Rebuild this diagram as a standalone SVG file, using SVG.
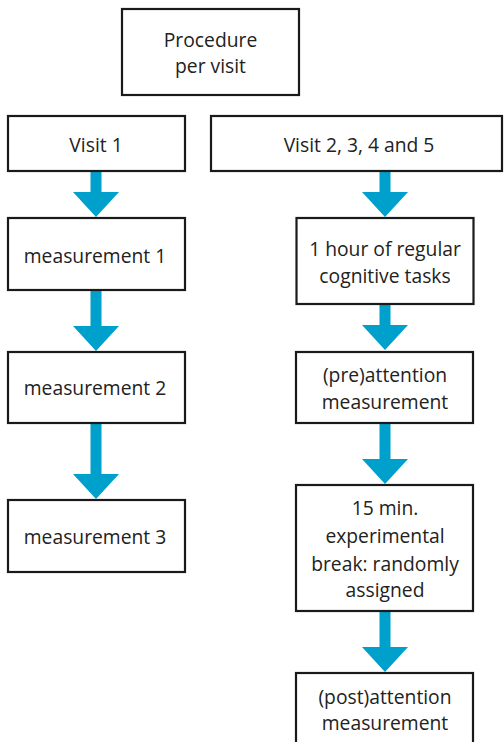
<svg xmlns="http://www.w3.org/2000/svg" width="504" height="742" viewBox="0 0 504 742">
<style>
.box{fill:#fff;stroke:#1a1a1a;stroke-width:2.2}
.t{font-family:"Open Sans","Noto Sans",sans-serif;font-size:19.3px;fill:#222;text-anchor:middle}
.arr{fill:#00A0CC}
</style>
<rect width="504" height="742" fill="#fff"/>
<g id="connectors" class="arr">
<path d="M90.5,171 H101.5 V192 H119 L96,217 L73,192 H90.5 Z"/>
<path d="M90.5,290 H101.5 V326 H119 L96,351 L73,326 H90.5 Z"/>
<path d="M90.5,423 H101.5 V474 H119 L96,499 L73,474 H90.5 Z"/>
<path d="M379.5,171 H390.5 V192 H408 L385,217 L362,192 H379.5 Z"/>
<path d="M379.5,304 H390.5 V325 H408 L385,350 L362,325 H379.5 Z"/>
<path d="M379.5,423 H390.5 V459 H408 L385,484 L362,459 H379.5 Z"/>
<path d="M379.5,611 H390.5 V647 H408 L385,672 L362,647 H379.5 Z"/>
</g>
<g id="n-procedure"><rect class="box" x="122" y="9" width="177" height="86"/><text class="t" x="210.5" y="47">Procedure</text><text class="t" x="210.5" y="73">per visit</text></g>
<g id="n-visit1"><rect class="box" x="8" y="116" width="177" height="55"/><text class="t" x="96" y="152">Visit 1</text></g>
<g id="n-visit2"><rect class="box" x="211" y="116" width="291" height="55"/><text class="t" x="359" y="152">Visit 2, 3, 4 and 5</text></g>
<g id="n-m1"><rect class="box" x="8" y="218" width="177" height="72"/><text class="t" x="95" y="262.5">measurement 1</text></g>
<g id="n-m2"><rect class="box" x="8" y="352" width="177" height="71"/><text class="t" x="95" y="395">measurement 2</text></g>
<g id="n-m3"><rect class="box" x="8" y="500" width="177" height="72"/><text class="t" x="95" y="544">measurement 3</text></g>
<g id="n-hour"><rect class="box" x="296.5" y="218" width="177" height="86"/><text class="t" x="385" y="256">1 hour of regular</text><text class="t" x="385" y="282.5">cognitive tasks</text></g>
<g id="n-pre"><rect class="box" x="296" y="352" width="177" height="71"/><text class="t" x="385" y="382">(pre)attention</text><text class="t" x="385" y="408.5">measurement</text></g>
<g id="n-break"><rect class="box" x="296" y="485" width="177" height="126"/><text class="t" x="385" y="515">15 min.</text><text class="t" x="385" y="543">experimental</text><text class="t" x="385" y="570.5">break: randomly</text><text class="t" x="385" y="597">assigned</text></g>
<g id="n-post"><rect class="box" x="296" y="673" width="177" height="80"/><text class="t" x="385" y="703.5">(post)attention</text><text class="t" x="385" y="729.5">measurement</text></g>
</svg>
